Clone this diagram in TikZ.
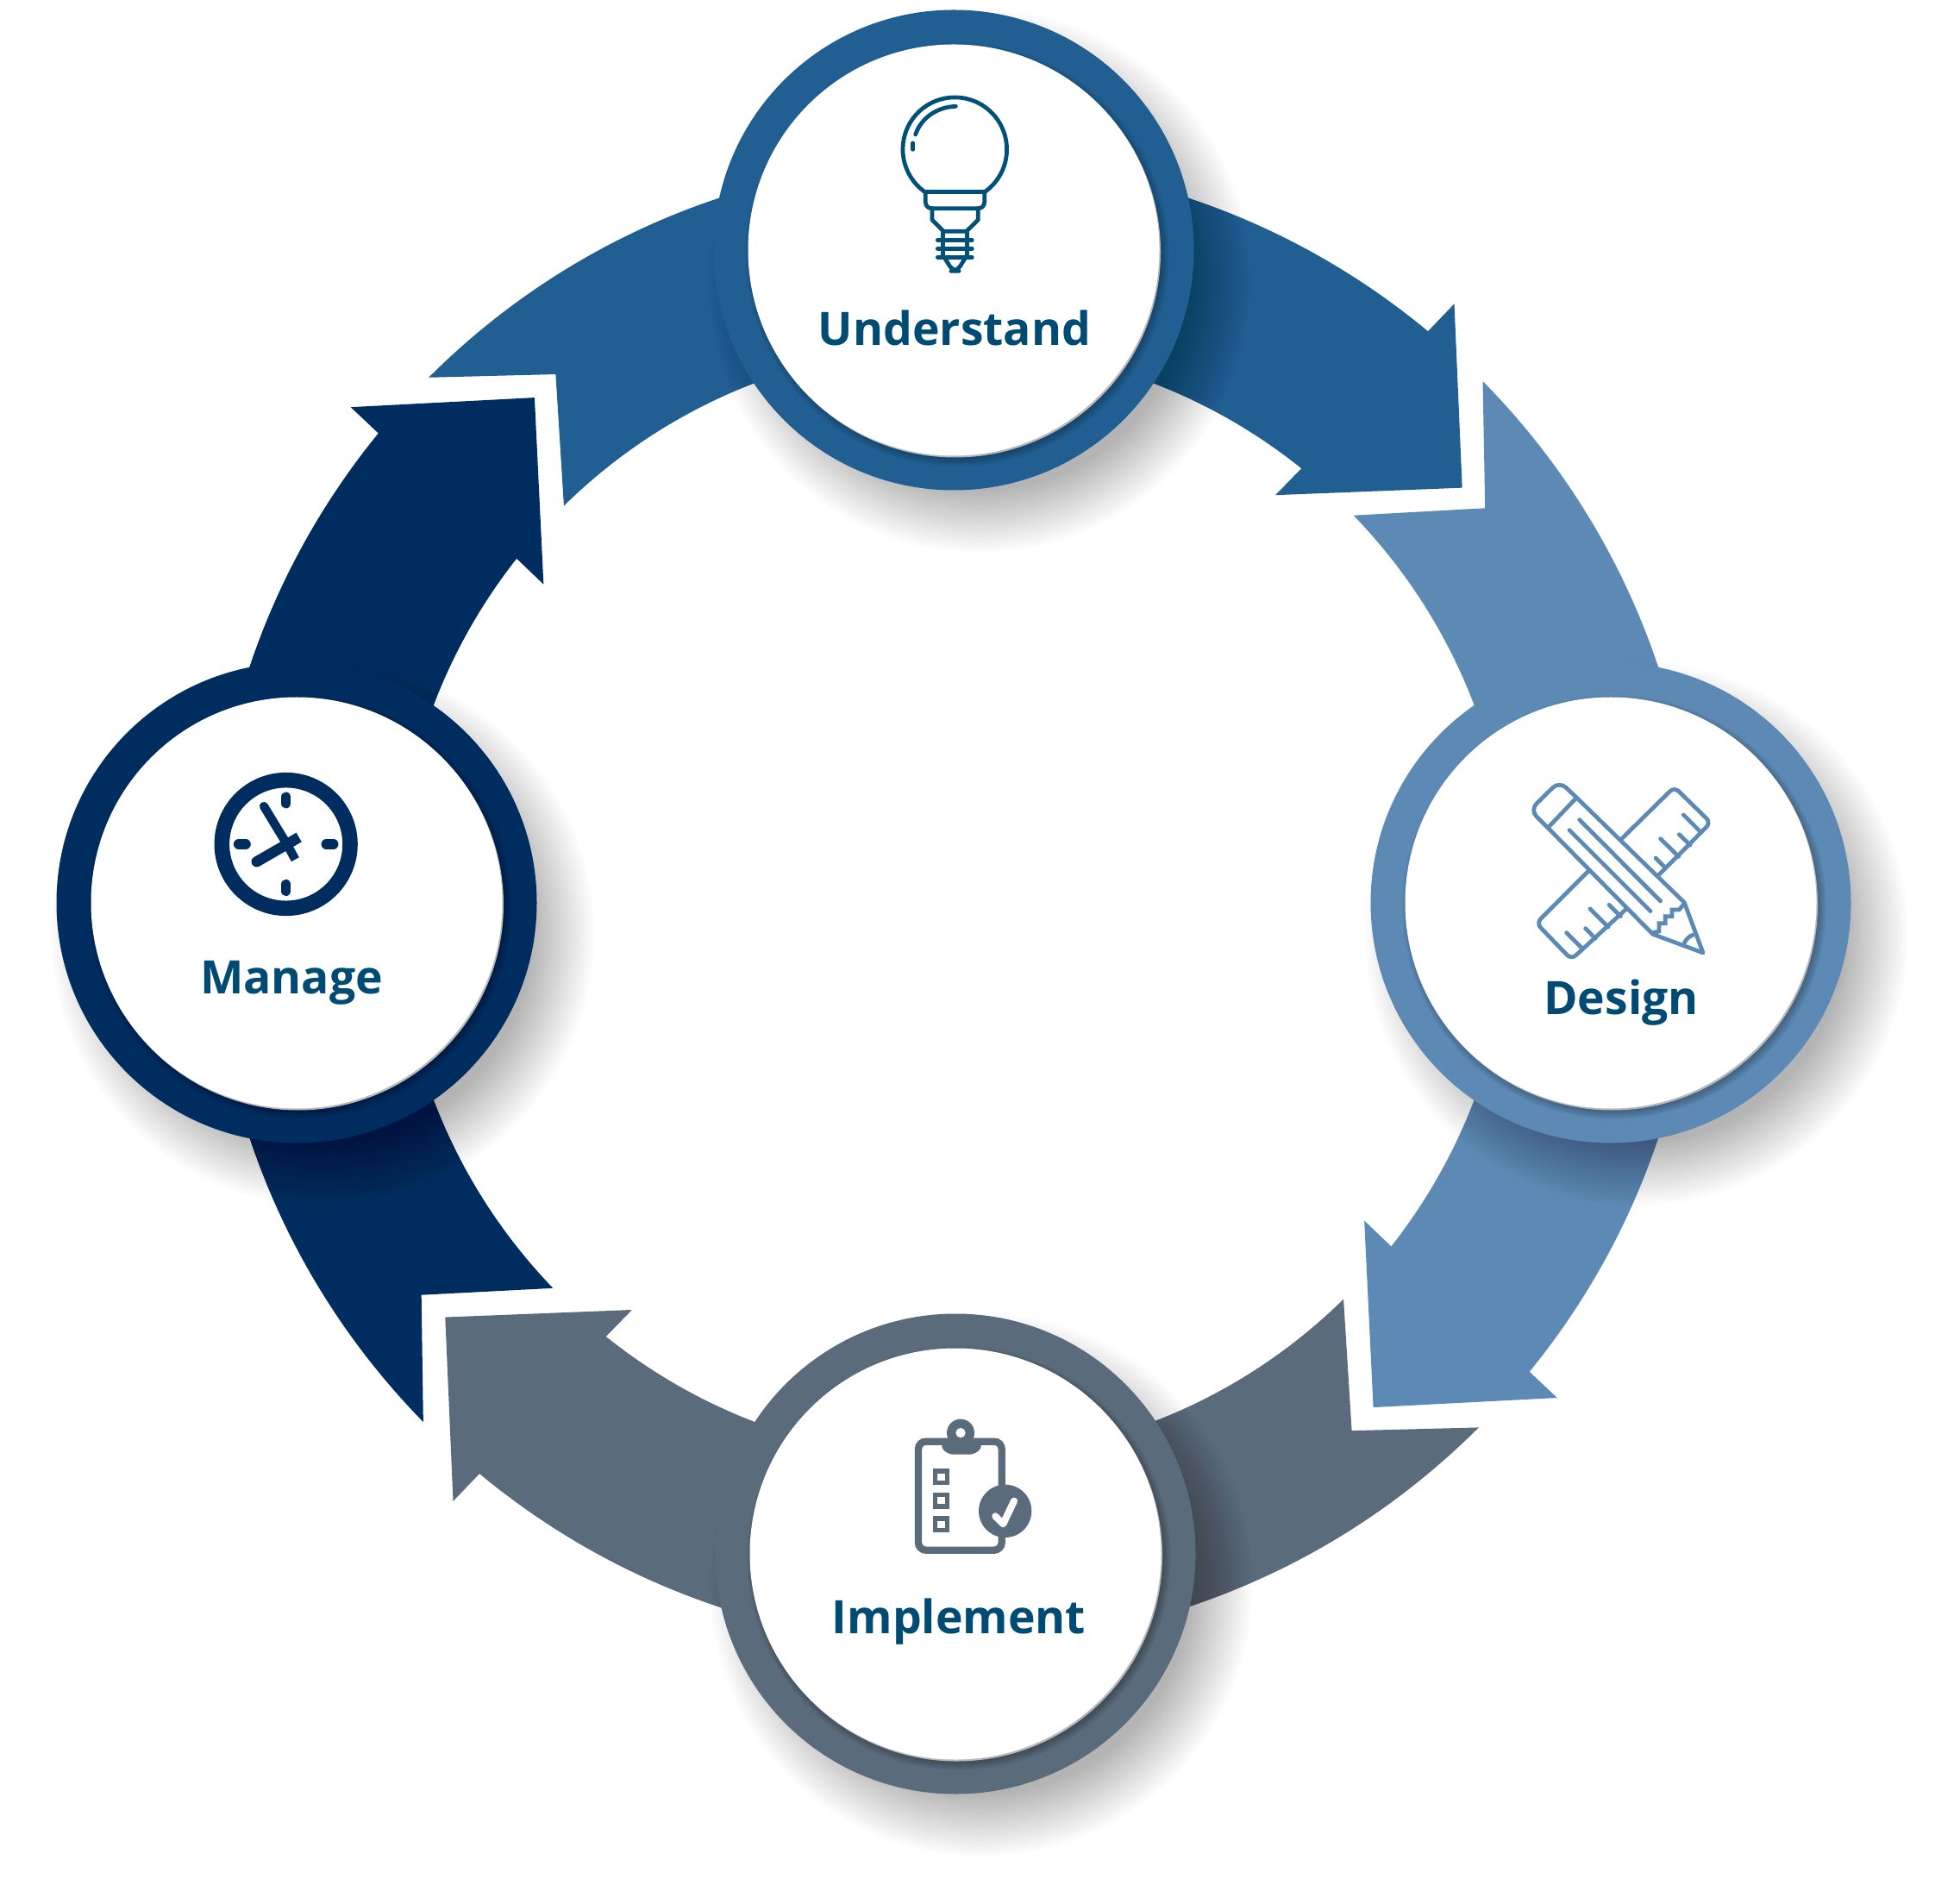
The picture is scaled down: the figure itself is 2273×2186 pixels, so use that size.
\documentclass[tikz,border=0pt]{standalone}
\usepackage{fontspec}
\setmainfont{Open Sans}
\definecolor{arrowA}{HTML}{215F93}
\definecolor{arrowB}{HTML}{5C8AB4}
\definecolor{arrowC}{HTML}{5A6C7B}
\definecolor{arrowD}{HTML}{002D5F}
\definecolor{labelcol}{HTML}{004B73}
\definecolor{bulbcol}{HTML}{00517A}
\tikzset{
  x=0.01cm,y=-0.01cm,
  iconline/.style={line width=1.35pt,line cap=round,line join=round},
  lbl/.style={anchor=base,text=labelcol,font=\fontsize{15.2}{18}\selectfont\bfseries,inner sep=0pt},
}
\newcommand{\softdisc}[3]{% cx cy colour
  \foreach \k in {0,...,24}{
    \fill[black,opacity=0.011] (#1+30,#2+36) circle[radius=315-3*\k];
  }
  \fill[#3] (#1,#2) circle[radius=278.5];
  \foreach \k in {0,...,7}{
    \fill[black,opacity=0.03] (#1+4,#2+5) circle[radius=246-1.2*\k];
  }
  \fill[gray!55] (#1+1.5,#2+2) circle[radius=238.5];
  \fill[white] (#1,#2) circle[radius=238.5];
}
\begin{document}
\begin{tikzpicture}
\useasboundingbox (0,0) rectangle (2273,2186);
\fill[white] (0,0) rectangle (2273,2186);
% ring of arrows
\foreach \a/\c/\dx/\dt/\dh in {0/arrowA/0/0/0,90/arrowB/0.5/0.4/-0.5,180/arrowC/0/0/0,270/arrowD/0/0.6/-0.5}{
  \begin{scope}[shift={(1106+\dx,1046.6)}]
  \pgfmathsetmacro{\ta}{\a-135+\dt}
  \pgfmathsetmacro{\tb}{\a-134.5+\dt}
  \pgfmathsetmacro{\tn}{\a-127+\dt}
  \pgfmathsetmacro{\ha}{\a-50.3+\dh}
  \pgfmathsetmacro{\hb}{\a-51.3+\dh}
  \fill[\c] (\ta:861) arc[start angle=\ta,end angle=\ha,radius=861]
    -- (\a-50.1+\dh:905) -- (\a-39.2+\dh:761) -- (\a-51.7+\dh:602) -- (\hb:645)
    arc[start angle=\hb,end angle=\tb,radius=645]
    -- (\tn:767) -- cycle;
  \end{scope}
}
% discs
\softdisc{1106}{290}{arrowA}
\softdisc{1868}{1047}{arrowB}
\softdisc{1108}{1802}{arrowC}
\softdisc{344}{1047}{arrowD}
% bulb
\begin{scope}[shift={(980,80)},scale=1/3,iconline,draw=bulbcol]
  \draw (278,428) arc[start angle=125,end angle=415,radius=181];
  \draw (278,428) -- (488,428);
  \draw[rounded corners=2pt] (280,428) -- (280,485) -- (485,485) -- (485,428);
  \draw (303,485) -- (303,525) -- (343,565) -- (422,565) -- (463,525) -- (463,485);
  \draw (340,565) -- (340,655) (424,565) -- (424,655);
  \draw (322,595) -- (442,595) (322,625) -- (442,625) (322,655) -- (442,655);
  \draw[rounded corners=2pt] (345,655) -- (375,703) -- (390,703) -- (420,655);
  \draw (245,228) .. controls (265,170) and (320,132) .. (385,130);
  \draw (236,258) -- (236,280);
\end{scope}
% pencil and ruler
\begin{scope}[shift={(1740,880)},scale=1/3,iconline,draw=arrowB]
  \draw[rounded corners=2pt] (305,392) -- (125,572) -- (247,698) -- (435,525);
  \draw[rounded corners=2pt] (420,280) -- (605,98) -- (732,222) -- (550,405);
  \draw (230,605) -- (285,660) (296,590) -- (330,625) (312,522) -- (375,585) (378,508) -- (418,548);
  \draw (540,345) -- (575,380) (557,278) -- (620,340) (622,263) -- (660,300) (637,195) -- (697,255);
  \draw[rounded corners=3pt] (165,240) -- (103,178) -- (205,78) -- (265,135);
  \draw (165,240) -- (265,135);
  \draw (265,135) -- (640,500) -- (705,675) -- (530,610) -- (165,240);
  \draw (240,248) -- (522,530) (275,212) -- (557,495);
  \draw[line cap=butt,line join=miter] (530,605) -- (552,600) -- (552,572) -- (574,572) -- (574,548) -- (597,548) -- (597,525) -- (622,525) -- (640,503);
  \draw (640,640) .. controls (648,625) and (660,615) .. (672,612);
\end{scope}
% clipboard
\begin{scope}[shift={(1030,1630)},scale=1/3]
  \draw[arrowC,line width=2.37pt,rounded corners=2.5pt] (105,125) rectangle (395,503);
  \fill[arrowC] (252,95) circle[radius=48];
  \fill[arrowC,rounded corners=2pt] (205,113) -- (300,113) -- (332,135) -- (305,170) -- (205,170) -- (178,135) -- cycle;
  \fill[white] (252,95) circle[radius=17];
  \draw[arrowC,line width=1.5pt] (163,228) rectangle (205,269);
  \draw[arrowC,line width=1.5pt] (163,310) rectangle (205,351);
  \draw[arrowC,line width=1.5pt] (163,393) rectangle (205,434);
  \fill[arrowC] (407,367) circle[radius=92];
  \draw[white,line width=2.3pt,line cap=round,line join=round] (373,385) -- (400,412) -- (438,332);
\end{scope}
% clock
\begin{scope}[shift={(230,880)},scale=1/3]
  \draw[arrowD,line width=5pt] (305,297) circle[radius=223];
  \draw[arrowD,line width=3.3pt,line cap=round] (305,133) -- (305,155) (305,437) -- (305,460) (140,297) -- (165,297) (445,297) -- (470,297);
  \draw[arrowD,line width=2.9pt,line cap=round] (228,165) -- (310,300);
  \draw[arrowD,line width=2.9pt] (310,300) -- (337,350);
  \draw[arrowD,line width=3.5pt,line cap=round] (203,358) -- (300,302);
  \draw[arrowD,line width=3.5pt] (300,302) -- (350,273);
\end{scope}
% labels
\node[lbl] (understand) at (1107,400.5) {Understand};
\node[lbl] (design) at (1880,1176.5) {Design};
\node[lbl] (implement) at (1112,1894.5) {Implement};
\node[lbl] (manage) at (338,1152.5) {Manage};
\end{tikzpicture}
\end{document}
